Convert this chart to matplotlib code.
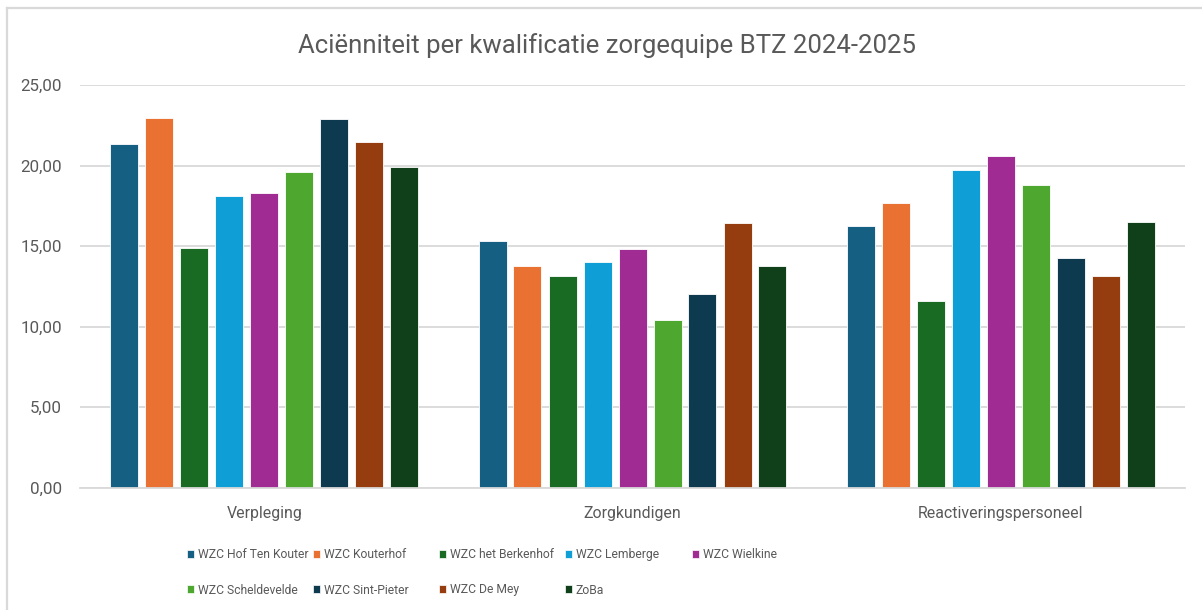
import matplotlib
matplotlib.use("Agg")
import matplotlib.pyplot as plt
from matplotlib.lines import Line2D
from matplotlib.patches import Patch

# ---------------- data ----------------
categories = ["Verpleging", "Zorgkundigen", "Reactiveringspersoneel"]
series_names = ["WZC Hof Ten Kouter", "WZC Kouterhof", "WZC het Berkenhof",
                "WZC Lemberge", "WZC Wielkine", "WZC Scheldevelde",
                "WZC Sint-Pieter", "WZC De Mey", "ZoBa"]
hof_ten_kouter = [21.31, 15.29, 16.22]
kouterhof      = [22.93, 13.75, 17.65]
berkenhof      = [14.85, 13.13, 11.57]
lemberge       = [18.09, 14.00, 19.69]
wielkine       = [18.27, 14.81, 20.56]
scheldevelde   = [19.58, 10.41, 18.77]
sint_pieter    = [22.86, 12.00, 14.27]
de_mey         = [21.43, 16.41, 13.15]
zoba           = [19.89, 13.75, 16.47]
series_values = [hof_ten_kouter, kouterhof, berkenhof, lemberge, wielkine,
                 scheldevelde, sint_pieter, de_mey, zoba]
y_ticks = [0, 5, 10, 15, 20, 25]
title = "Aciënniteit per kwalificatie zorgequipe BTZ 2024-2025"

colors = ["#156082", "#E97132", "#196B24", "#0F9ED5", "#A02B93",
          "#4EA72E", "#0D3A4E", "#953D0F", "#10401A"]

W, H = 1202, 610
FAM = ["Roboto", "DejaVu Sans"]
TXT = "#595959"
GRID = "#D9D9D9"

fig = plt.figure(figsize=(W / 100, H / 100), dpi=100)
fig.patch.set_facecolor("white")
renderer = fig.canvas.get_renderer()


def size_for(s, target_px, ref=12):
    t = fig.text(0, 0, s, fontsize=ref, family=FAM)
    w = t.get_window_extent(renderer).width
    t.remove()
    return ref * target_px / w


x0, x1 = 80, 1185
y0, y25 = 487.5, 85
ax = fig.add_axes([x0 / W, 1 - y0 / H, (x1 - x0) / W, (y0 - y25) / H])

cat_px = (x1 - x0) / 3.0
pitch = 35 / cat_px
bw = 28 / cat_px
n = len(series_names)
for j, (name, vals, col) in enumerate(zip(series_names, series_values, colors)):
    xs = [i + (j - (n - 1) / 2) * pitch for i in range(len(categories))]
    ax.bar(xs, vals, width=bw, color=col, edgecolor="white", linewidth=0.6,
           label=name, zorder=3)

ax.set_xlim(-0.5, len(categories) - 0.5)
ax.set_ylim(0, 25)
ax.set_yticks(y_ticks)
tick_fs = size_for("25,00", 41)
ax.set_yticklabels([f"{v:.2f}".replace(".", ",") for v in y_ticks],
                   fontsize=tick_fs, color=TXT, family=FAM)
ax.set_xticks(range(len(categories)))
cat_fs = size_for("Verpleging", 75)
ax.set_xticklabels(categories, fontsize=cat_fs, color=TXT, family=FAM)
ax.tick_params(axis="both", length=0)
ax.tick_params(axis="y", pad=13)
ax.tick_params(axis="x", pad=13)
ax.yaxis.grid(True, color=GRID, linewidth=1.3, zorder=0)
ax.set_axisbelow(True)
for s in ["top", "right", "left"]:
    ax.spines[s].set_visible(False)
ax.spines["bottom"].set_color(GRID)
ax.spines["bottom"].set_linewidth(1.3)
ax.spines["bottom"].set_zorder(4)

# title
title_fs = size_for(title, 615)
fig.text(607.5 / W, 1 - 53.3 / H, title, ha="center", va="baseline",
         fontsize=title_fs, color=TXT, family=FAM)

# legend: equal-width columns as in the reference
leg_fs = size_for("WZC Hof Ten Kouter", 110)
col_x = [187, 313, 439, 565, 692]
row_y = [554.5, 590]
handles = [Patch(facecolor=c, edgecolor="white", linewidth=0.5) for c in colors]
for k, (h, name) in enumerate(zip(handles, series_names)):
    r, c = divmod(k, 5)
    lg = fig.legend([h], [name], loc="center left",
                    bbox_to_anchor=(col_x[c] / W, 1 - row_y[r] / H),
                    frameon=False, borderpad=0, borderaxespad=0,
                    handlelength=0.62, handleheight=0.62, handletextpad=0.25,
                    prop={"family": FAM, "size": leg_fs})
    for t in lg.get_texts():
        t.set_color(TXT)

# outer frame lines (top and left)
fig.add_artist(Line2D([6.5 / W, 1], [1 - 7.5 / H, 1 - 7.5 / H],
                      transform=fig.transFigure, color=GRID, linewidth=1.6))
fig.add_artist(Line2D([6.5 / W, 6.5 / W], [0, 1 - 7.5 / H],
                      transform=fig.transFigure, color=GRID, linewidth=1.6))

fig.savefig("out.png", dpi=100, facecolor="white")
